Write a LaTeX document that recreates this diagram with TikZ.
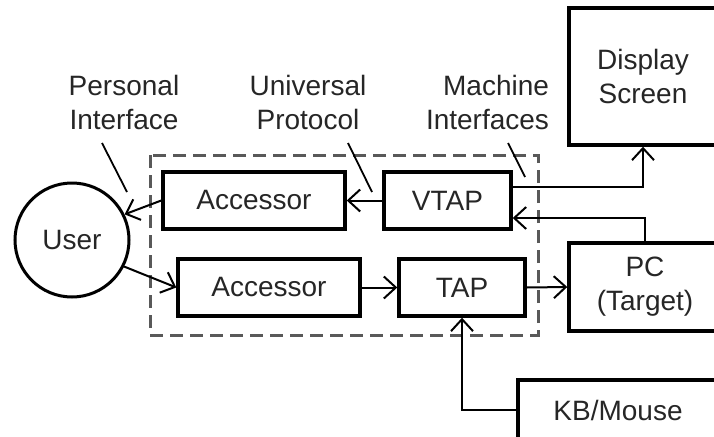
\documentclass[tikz,border=0pt]{standalone}
\usepackage{fontspec}
\setmainfont{Liberation Sans}
\usetikzlibrary{arrows.meta}
\begin{document}
\begin{tikzpicture}[x=1pt,y=-1pt,
  txt/.style={font=\fontsize{28}{34}\selectfont,text=black!85},
  box/.style={txt,draw,line width=3.4pt,inner sep=0pt,align=center},
  lbl/.style={txt,inner sep=0pt},
  conn/.style={line width=2pt,-{Straight Barb[length=12pt,width=22pt,line width=2pt]}},
  ptr/.style={line width=1.8pt},
  group/.style={draw=black!65,line width=3pt,dash pattern=on 13pt off 7pt}]
\clip (0,0) rectangle (714,436);

% grouping of the interface components
\draw[group] (150,155) rectangle (538,335);

% components
\node[box,circle,minimum size=114pt,line width=3pt] (user) at (72,240) {User};
\node[box,minimum width=182pt,minimum height=57pt] (acc1) at (254,200.5) {Accessor};
\node[box,minimum width=127pt,minimum height=57pt] (vtap) at (447.5,200.5) {VTAP};
\node[box,minimum width=182pt,minimum height=57pt] (acc2) at (269,287.5) {Accessor};
\node[box,minimum width=126pt,minimum height=57pt] (tap) at (462,287.5) {TAP};
\node[box,minimum width=152pt,minimum height=88pt] (pc) at (645,287) {PC\\(Target)};
\node[box,minimum width=148pt,minimum height=137pt] (disp) at (643,76.5) {Display\\Screen};
\node[box,minimum width=200pt,minimum height=60pt] (kb) at (618,410) {KB/Mouse};

% labels
\node[lbl,align=center] (perslbl) at (124,102) {Personal\\Interface};
\node[lbl,align=center] (protlbl) at (308,102) {Universal\\Protocol};
\node[lbl,align=right] (machlbl) at (487.5,102) {Machine\\Interfaces};

% label pointers
\coordinate (persA) at (102,143); \coordinate (persB) at (127,192);
\coordinate (protA) at (348,143); \coordinate (protB) at (372,192);
\coordinate (machA) at (508,143); \coordinate (machB) at (525,177);
\draw[ptr] (persA) -- (persB);
\draw[ptr] (protA) -- (protB);
\draw[ptr] (machA) -- (machB);

% data flow
\draw[conn] (acc1.west) -- (user.26);
\draw[conn] (user.-27) -- (acc2.west);
\draw[conn] (vtap.west) -- (acc1.east);
\draw[conn] (acc2.east) -- (tap.west);
\draw[conn] (tap.east) -- (pc.west);
\draw[conn] (pc.north) |- ([yshift=-17.5pt]vtap.east);
\draw[conn] ([yshift=13.5pt]vtap.east) -| (disp.south);
\draw[conn] (kb.west) -| (tap.south);
\end{tikzpicture}
\end{document}
